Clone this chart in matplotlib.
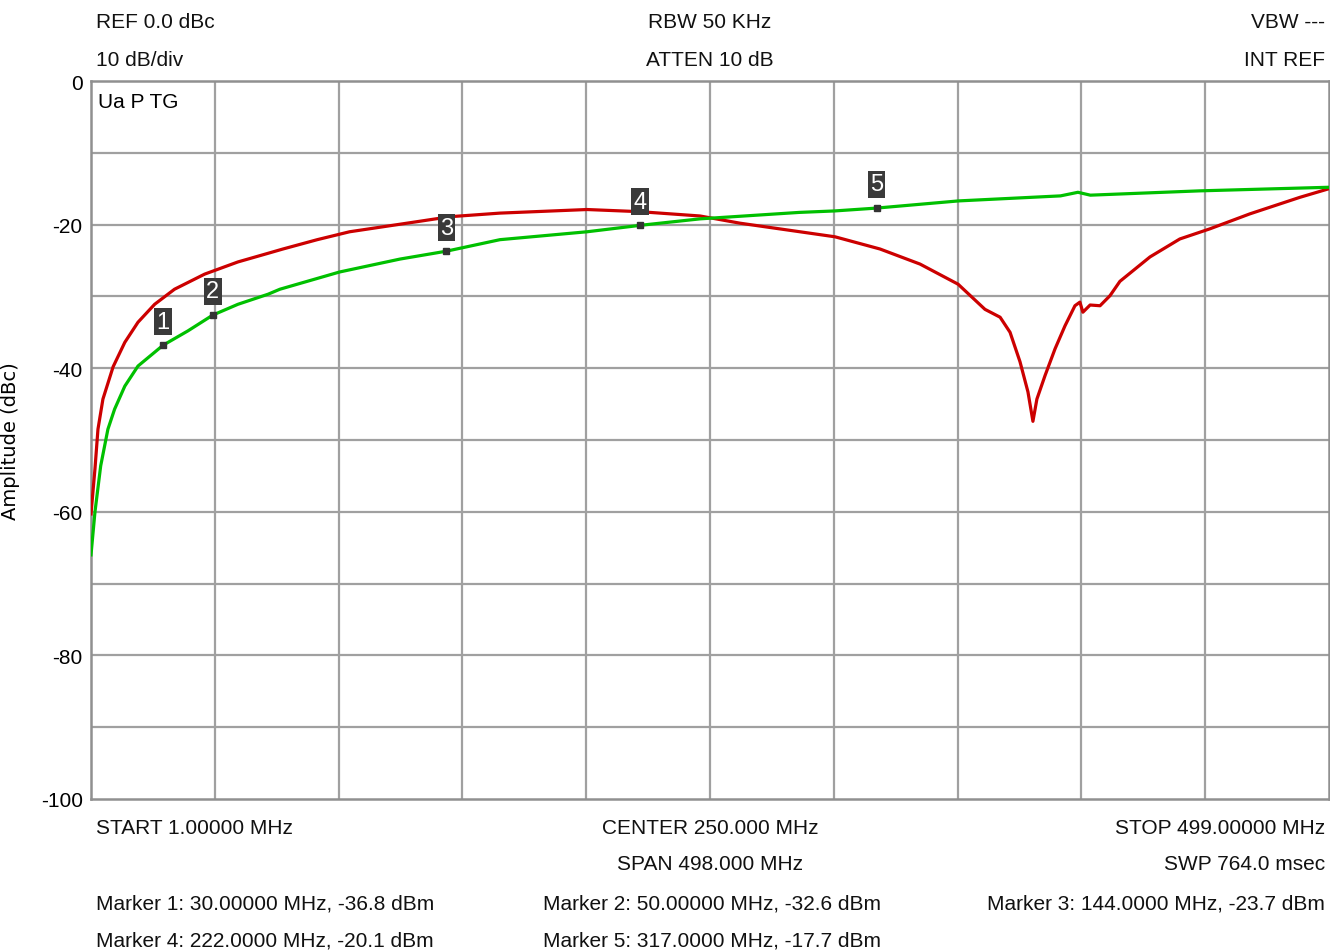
import matplotlib
matplotlib.use("Agg")
import matplotlib.pyplot as plt
from matplotlib import font_manager
import numpy as np

# Trace data (frequency in MHz, amplitude in dBc)
red_freq = [1, 2.6, 3.8, 5.8, 9.9, 14.6, 19.9, 26.6, 34.6, 46.7, 60.1, 72.2, 78.2,
            92, 105, 118.5, 132, 145.4, 165.5, 200.5, 221.8, 246, 262, 286.2, 300.3,
            318.4, 334.5, 349.8, 360.6, 366.7, 370.7, 374.7, 377.9, 379.9, 381.5,
            384.8, 388.8, 392.8, 396.8, 398.8, 400, 402.9, 406.9, 410.9, 414.9,
            427, 439, 451, 467.2, 487.3, 499]
red_db = [-60.3, -54, -48.5, -44.3, -39.8, -36.4, -33.6, -31.1, -29.0, -26.9, -25.2,
          -24.0, -23.4, -22.1, -21.0, -20.3, -19.6, -18.9, -18.4, -17.9, -18.2,
          -18.8, -19.8, -21.0, -21.7, -23.4, -25.5, -28.3, -31.8, -32.9, -35.0,
          -39.1, -43.3, -47.4, -44.3, -41.0, -37.3, -34.1, -31.3, -30.8, -32.2,
          -31.2, -31.3, -29.9, -27.9, -24.5, -22.0, -20.6, -18.5, -16.2, -15.0]

green_freq = [1, 2.6, 4.9, 7.8, 10.5, 14.6, 19.9, 30, 40, 50, 60.1, 72.2, 77, 101,
              125.3, 144, 165.5, 200.5, 222, 246, 286, 300, 317, 350, 391, 398, 403,
              447, 499]
green_db = [-66, -60, -53.6, -48.5, -45.7, -42.5, -39.7, -36.8, -34.8, -32.6, -31.1,
            -29.7, -29.0, -26.6, -24.8, -23.7, -22.1, -21.0, -20.1, -19.2, -18.3,
            -18.1, -17.7, -16.7, -16.0, -15.5, -15.9, -15.3, -14.8]

marker_ids = ["1", "2", "3", "4", "5"]
marker_freq = [30, 50, 144, 222, 317]
marker_db = [-36.8, -32.6, -23.7, -20.1, -17.7]
marker_text = ["30.00000", "50.00000", "144.0000", "222.0000", "317.0000"]

f_start, f_stop = 1.0, 499.0
y_ticks = [0, -20, -40, -60, -80, -100]

names = {f.name for f in font_manager.fontManager.ttflist}
narrow = "Liberation Sans Narrow" if "Liberation Sans Narrow" in names else "Liberation Sans"
plt.rcParams["font.family"] = [narrow, "DejaVu Sans"]
fs = 16.5 if narrow.endswith("Narrow") else 15

fig = plt.figure(figsize=(13.3, 9.53), dpi=100)
ax = fig.add_axes([91 / 1330, 1 - 800 / 953, 1238 / 1330, 718 / 953])
ax.set_xlim(f_start, f_stop)
ax.set_ylim(-100, 0)

grid_c = "#a0a0a0"
xgrid = np.linspace(f_start, f_stop, 11)
for xv in xgrid[1:-1]:
    ax.axvline(xv, color=grid_c, lw=1.6, zorder=1)
for yv in range(-90, 0, 10):
    ax.axhline(yv, color=grid_c, lw=1.6, zorder=1)
for s in ax.spines.values():
    s.set_color("#909090")
    s.set_linewidth(1.8)

ax.plot(red_freq, red_db, color="#cc0000", lw=2.3, zorder=3)
ax.plot(green_freq, green_db, color="#00c000", lw=2.3, zorder=3)

# Markers on the green trace
for mid, mf, md in zip(marker_ids, marker_freq, marker_db):
    ax.plot(mf, md, marker="s", ms=4.5, color="#333333", zorder=5)
    ax.annotate(mid, (mf, md), xytext=(0, 17), textcoords="offset points",
                ha="center", va="center", color="white", fontsize=17,
                bbox=dict(boxstyle="square,pad=0.1", fc="#3a3a3a", ec="none"),
                zorder=6)

ax.set_xticks([])
ax.set_yticks(y_ticks)
ax.set_yticklabels([str(v) for v in y_ticks], fontsize=fs)
ax.tick_params(axis="y", length=0, pad=6)
ax.set_ylabel("Amplitude (dBc)", family=["DejaVu Sans"], fontsize=14)
ax.yaxis.set_label_coords((20 - 91) / 1238, 0.5)

ax.text(0.006, 0.985, "Ua P TG", transform=ax.transAxes, ha="left", va="top",
        fontsize=fs)

def ftext(x, y, s, ha="left"):
    fig.text(x / 1330, 1 - y / 953, s, ha=ha, va="center", fontsize=fs,
             color="#111111")

ftext(96, 22, "REF 0.0 dBc")
ftext(96, 60, "10 dB/div")
ftext(710, 22, "RBW 50 KHz", "center")
ftext(710, 60, "ATTEN 10 dB", "center")
ftext(1325, 22, "VBW ---", "right")
ftext(1325, 60, "INT REF", "right")

ftext(96, 829, "START 1.00000 MHz")
ftext(710, 829, "CENTER 250.000 MHz", "center")
ftext(1325, 829, "STOP 499.00000 MHz", "right")
ftext(710, 865, "SPAN 498.000 MHz", "center")
ftext(1325, 865, "SWP 764.0 msec", "right")

def mline(i):
    return f"Marker {marker_ids[i]}: {marker_text[i]} MHz, {marker_db[i]:.1f} dBm"

ftext(96, 904, mline(0))
ftext(543, 904, mline(1))
ftext(1325, 904, mline(2), "right")
ftext(96, 941, mline(3))
ftext(543, 941, mline(4))

fig.savefig("out.png", dpi=100)
